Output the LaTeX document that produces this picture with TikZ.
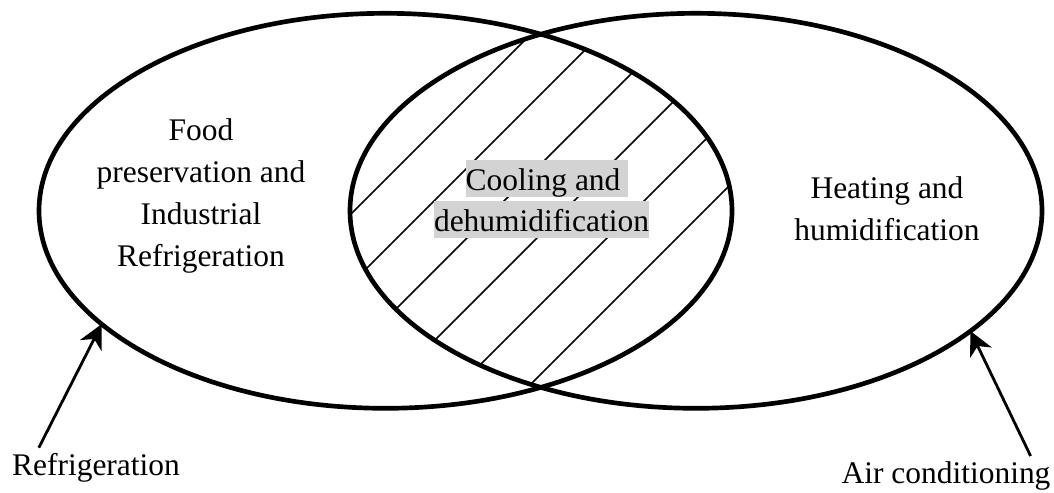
\documentclass[tikz,border=0pt]{standalone}
\usepackage{fontspec}
\setmainfont{Liberation Serif}
\usepackage{xcolor}
\usepackage{tikz}
\usetikzlibrary{arrows.meta,calc}
\definecolor{hlgray}{RGB}{211,211,211}
\tikzset{every picture/.style={line width=0.75pt}}
\tikzset{
  ring/.style={line width=3.5pt},
  hatchline/.style={line width=1.1pt},
  pointer/.style={line width=2.1pt,-{Stealth[length=18pt,width=18pt,inset=5.5pt]}},
  txt/.style={font=\fontsize{23.6pt}{31.65pt}\selectfont,inner sep=0pt},
  hilite/.style={txt,fill=hlgray,text height=22.3pt,text depth=5.6pt},
  caption/.style={txt,inner sep=3.5pt}
}

\begin{document}
\begin{tikzpicture}[x=0.75pt,y=0.75pt,yscale=-1,xscale=1]
\useasboundingbox (0,0) rectangle (1054,493);

\coordinate (lc) at (385.5,210.8);
\coordinate (rc) at (696,210.8);

%Hatch: overlap of both sets
\begin{scope}
  \clip (lc) ellipse [x radius=346.5, y radius=197.5];
  \clip (rc) ellipse [x radius=346, y radius=197.5];
  \foreach \c in {565,635,...,915}
    \draw [hatchline] (\c-420,420) -- (\c,0);
\end{scope}

% Text Node
\node [hilite, anchor=base] (cool) at (547,190) {Cooling and\kern0.25em};
% Text Node
\node [hilite, anchor=base] (dehum) at (541.5,231) {dehumidification};

%Shape: Ellipse
\draw [ring] (lc) ellipse [x radius=346.5, y radius=197.5];
%Shape: Ellipse
\draw [ring] (rc) ellipse [x radius=346, y radius=197.5];

% Text Node
\node [txt, align=center] (food) at (201,196) {Food\\preservation and\\Industrial\\Refrigeration};
% Text Node
\node [txt, align=center] (heat) at (887,209) {Heating and\\humidification};

% Text Node
\node [caption, anchor=base] (reflabel) at (96,475) {Refrigeration};
% Text Node
\node [caption, anchor=base] (aclabel) at (946,483) {Air conditioning};

%points on the outlines
\path (lc) ++(145:346.5 and 197.5) coordinate (reftip);
\path (rc) ++(37.5:346 and 197.5) coordinate (actip);

%Straight Lines
\draw [pointer] ($(reflabel.north west)!0.179!(reflabel.north east)$) -- (reftip);
%Straight Lines
\draw [pointer] ($(aclabel.north west)!0.886!(aclabel.north east)$) -- (actip);
\end{tikzpicture}
\end{document}
